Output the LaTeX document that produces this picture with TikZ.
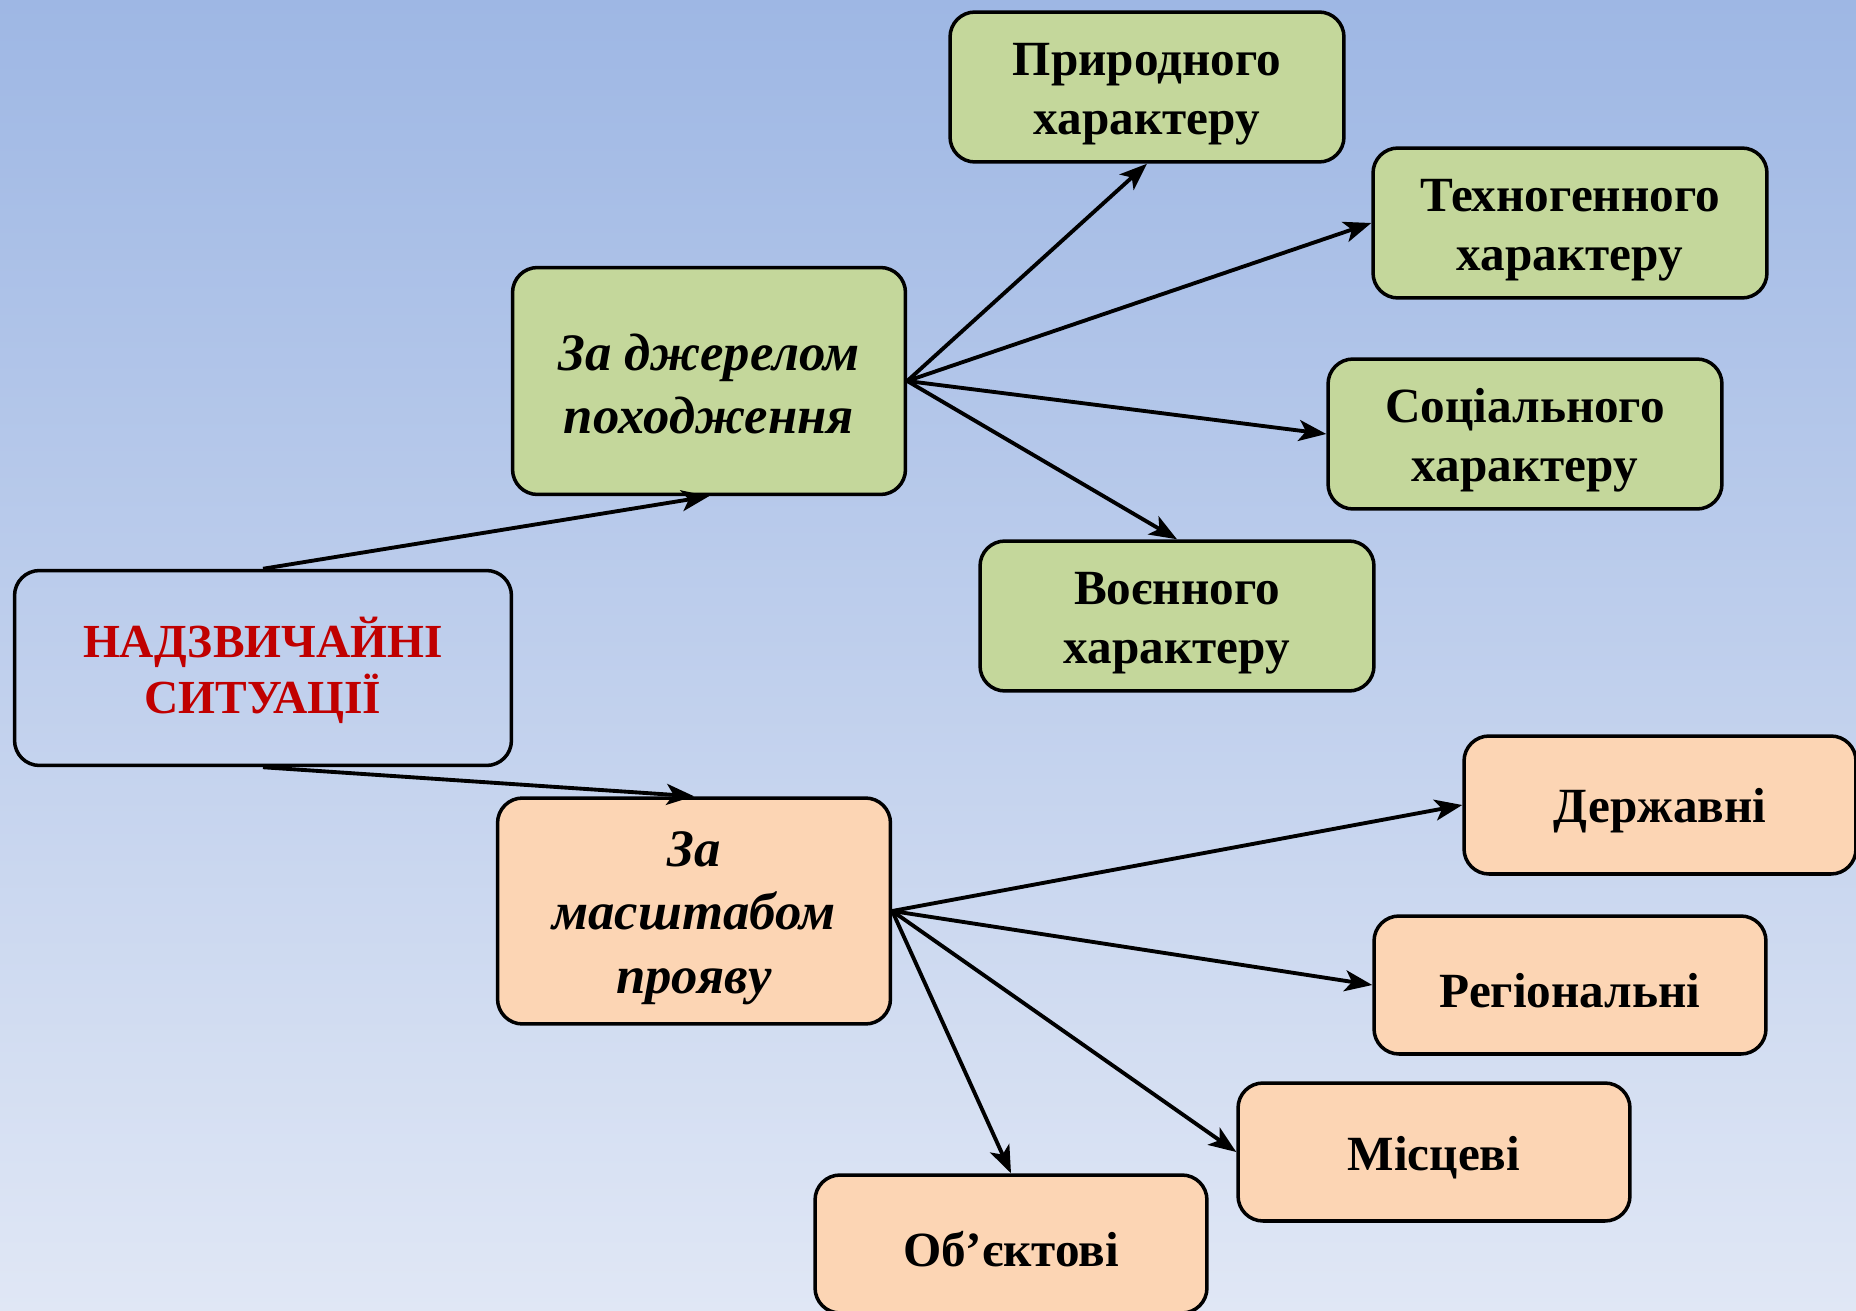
\documentclass[tikz,border=0pt]{standalone}
\usepackage{fontspec}
\setmainfont{Liberation Serif}
\usetikzlibrary{arrows.meta}
\definecolor{bgtop}{RGB}{158,183,228}
\definecolor{bgbottom}{RGB}{224,231,245}
\definecolor{greenfill}{RGB}{196,215,155}
\definecolor{peachfill}{RGB}{252,213,180}
\definecolor{titlered}{RGB}{192,0,0}
\tikzset{
	box/.style={draw=black, line width=2pt, rounded corners=0.5cm, inner sep=0pt, align=center, font=\fontsize{28}{33.5}\selectfont\bfseries, execute at begin node=\rule{0pt}{26pt}},
	rootbox/.style={box, minimum width=9.94cm, minimum height=3.9cm, text=titlered, font=\fontsize{27}{32}\selectfont\bfseries, execute at begin node=\rule{0pt}{58pt}},
	groupgreen/.style={box, fill=greenfill, minimum width=7.86cm, minimum height=4.54cm, font=\fontsize{30}{36}\selectfont\bfseries\itshape, execute at begin node=\rule{0pt}{60pt}},
	grouppeach/.style={box, fill=peachfill, minimum width=7.86cm, minimum height=4.52cm, font=\fontsize{30}{36}\selectfont\bfseries\itshape, execute at begin node=\rule{0pt}{100pt}},
	greenbox/.style={box, fill=greenfill, minimum width=7.88cm, minimum height=3cm, execute at begin node=\rule{0pt}{60pt}},
	peachbox/.style={box, fill=peachfill, minimum width=7.84cm, minimum height=2.76cm},
	arr/.style={line width=2.2pt, -{Stealth[length=0.55cm, width=0.42cm, inset=0.14cm]}}
}
\begin{document}
\begin{tikzpicture}[x=0.02cm, y=-0.02cm]
			%%%%% START %%%%%
			
			\shade[top color=bgtop, bottom color=bgbottom] (0, 0) rectangle (1856, 1311);
			\useasboundingbox (0, 0) rectangle (1856, 1311);
			
			\node[rootbox] (root) at (263, 668) {НАДЗВИЧАЙНІ\\СИТУАЦІЇ};
			
			\node[groupgreen] (dzherelo) at (709, 381) {За джерелом\\походження};
			\node[grouppeach] (masshtab) at (694, 911) {За\\масштабом\\прояву};
			
			\node[greenbox] (pryrodn) at (1147, 87) {Природного\\характеру};
			\node[greenbox] (tekhno) at (1570, 223) {Техногенного\\характеру};
			\node[greenbox] (sotsial) at (1525, 434) {Соціального\\характеру};
			\node[greenbox] (voienn) at (1177, 616) {Воєнного\\характеру};
			
			\node[peachbox] (derzh) at (1660, 805) {Державні};
			\node[peachbox] (region) at (1570, 985) {Регіональні};
			\node[peachbox] (mistsev) at (1434, 1152) {Місцеві};
			\node[peachbox] (obiekt) at (1011, 1244) {Об’єктові};
			
			\draw[arr] (root.north) -- (dzherelo.south);
			\draw[arr] (root.south) -- (masshtab.north);
			
			\draw[arr] (dzherelo.east) -- (pryrodn.south);
			\draw[arr] (dzherelo.east) -- (tekhno.west);
			\draw[arr] (dzherelo.east) -- (sotsial.west);
			\draw[arr] (dzherelo.east) -- (voienn.north);
			
			\draw[arr] (masshtab.east) -- (derzh.west);
			\draw[arr] (masshtab.east) -- (region.west);
			\draw[arr] (masshtab.east) -- (mistsev.west);
			\draw[arr] (masshtab.east) -- (obiekt.north);
			
			%%%%% END %%%%%
\end{tikzpicture}
\end{document}
